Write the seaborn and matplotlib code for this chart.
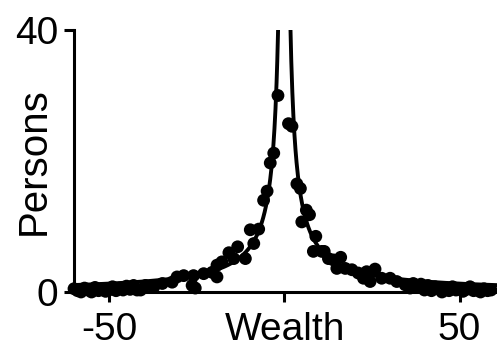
import numpy as np
import pandas as pd
import matplotlib
matplotlib.use("Agg")
import matplotlib.pyplot as plt
import seaborn as sns

# Observed wealth distribution (persons per wealth bin)
wealth_left = [-60, -59, -58, -57, -56, -55, -54, -53, -52, -51, -50, -49, -48,
               -47, -46, -45, -44, -43, -42, -41, -39.6, -37.2, -34.8, -32.0,
               -30.6, -28.7, -26.3, -25.9, -25.4, -23.0, -20.6, -19.2, -19.2,
               -17.8, -15.8, -14.4, -13.3, -11.1, -9.7, -8.7, -7.3, -5.9, -4.9,
               -4.0, -3.0, -1.8]
persons_left = [0.5, 0.2, 0.0, 0.6, 0.3, 0.0, 0.7, 0.2, 0.5, 0.1, 0.3, 0.8, 0.2,
                0.6, 0.3, 0.9, 0.4, 1.0, 0.3, 0.3, 1.0, 0.8, 1.3, 1.5,
                2.3, 2.5, 1.0, 2.5, 0.6, 2.8, 3.0, 4.1, 2.3,
                4.6, 6.0, 5.1, 6.9, 5.1, 9.5, 7.4, 9.6, 14.0, 15.4,
                19.7, 21.2, 30.0]

wealth_right = [1.2, 2.2, 3.6, 4.6, 5.0, 6.3, 7.2, 8.3, 9.0, 10.7, 11.4, 12.6,
                14.0, 15.0, 16.1, 17.4, 19.3, 21.1, 22.6, 23.5, 24.5, 25.9,
                27.8, 30.2, 32.1, 34.5, 35.9, 36.8, 38, 39, 40, 41, 42, 43, 44,
                45, 46, 47, 48, 49, 50, 51, 52, 53, 54, 55, 56, 57, 58, 59]
persons_right = [25.7, 25.3, 16.5, 15.8, 10.7, 12.5, 11.8, 6.2, 8.5, 6.2, 6.2, 5.1,
                 4.9, 3.6, 5.3, 3.6, 3.4, 2.9, 2.1, 3.1, 1.6, 3.5,
                 2.1, 2.1, 1.6, 1.1, 0.6, 1.3, 0.8, 1.2, 0.3, 1.0, 0.2, 0.8, 0.5,
                 0.0, 0.6, 0.2, 0.8, 0.3, 0.5, 0.1, 0.4, 0.8, 0.2, 0.3, 0.0, 0.5, 0.2, 0.3]

# Power-law fit  persons = A / |wealth|^alpha
fit_amplitude = 72.0
fit_exponent = 1.03

x_ticks = [-50, 0, 50]
x_tick_labels = ["-50", "", "50"]
y_ticks = [0, 40]
y_tick_labels = ["0", "40"]

sns.set_style("ticks")
plt.rcParams["font.family"] = ["Liberation Sans", "DejaVu Sans"]

points = pd.DataFrame({
    "Wealth": wealth_left + wealth_right,
    "Persons": persons_left + persons_right,
})

xs_left = np.linspace(-61, -1.0, 600)
xs_right = np.linspace(1.0, 61, 600)
fit_left = pd.DataFrame({"Wealth": xs_left,
                         "Persons": fit_amplitude / np.abs(xs_left) ** fit_exponent})
fit_right = pd.DataFrame({"Wealth": xs_right,
                          "Persons": fit_amplitude / np.abs(xs_right) ** fit_exponent})

fig = plt.figure(figsize=(4.97, 3.52), dpi=100)
ax = fig.add_axes([74 / 497, 1 - 292 / 352, 1 - 74 / 497, 262 / 352])

sns.lineplot(data=fit_left, x="Wealth", y="Persons", color="black", lw=2.8, ax=ax)
sns.lineplot(data=fit_right, x="Wealth", y="Persons", color="black", lw=2.8, ax=ax)
sns.scatterplot(data=points, x="Wealth", y="Persons", color="black", s=85,
                edgecolor="none", ax=ax, zorder=3, clip_on=False)

ax.set_xlim(-60, 60.7)
ax.set_ylim(0, 40)
ax.set_xticks(x_ticks)
ax.set_xticklabels(x_tick_labels)
ax.set_yticks(y_ticks)
ax.set_yticklabels(y_tick_labels)

for side in ["top", "right"]:
    ax.spines[side].set_visible(False)
for side in ["left", "bottom"]:
    ax.spines[side].set_linewidth(2.2)
    ax.spines[side].set_color("black")

ax.tick_params(axis="both", direction="out", length=7.2, width=2.2,
               labelsize=28, colors="black", labelcolor="black")
ax.tick_params(axis="x", pad=7)
ax.tick_params(axis="y", pad=4)

ax.set_xlabel("Wealth", fontsize=28, color="black")
ax.set_ylabel("Persons", fontsize=29, color="black")
ax.xaxis.set_label_coords(0.5, -0.075)
ax.yaxis.set_label_coords(-0.05, 0.5)

fig.savefig("out.png", dpi=100, facecolor="white")
